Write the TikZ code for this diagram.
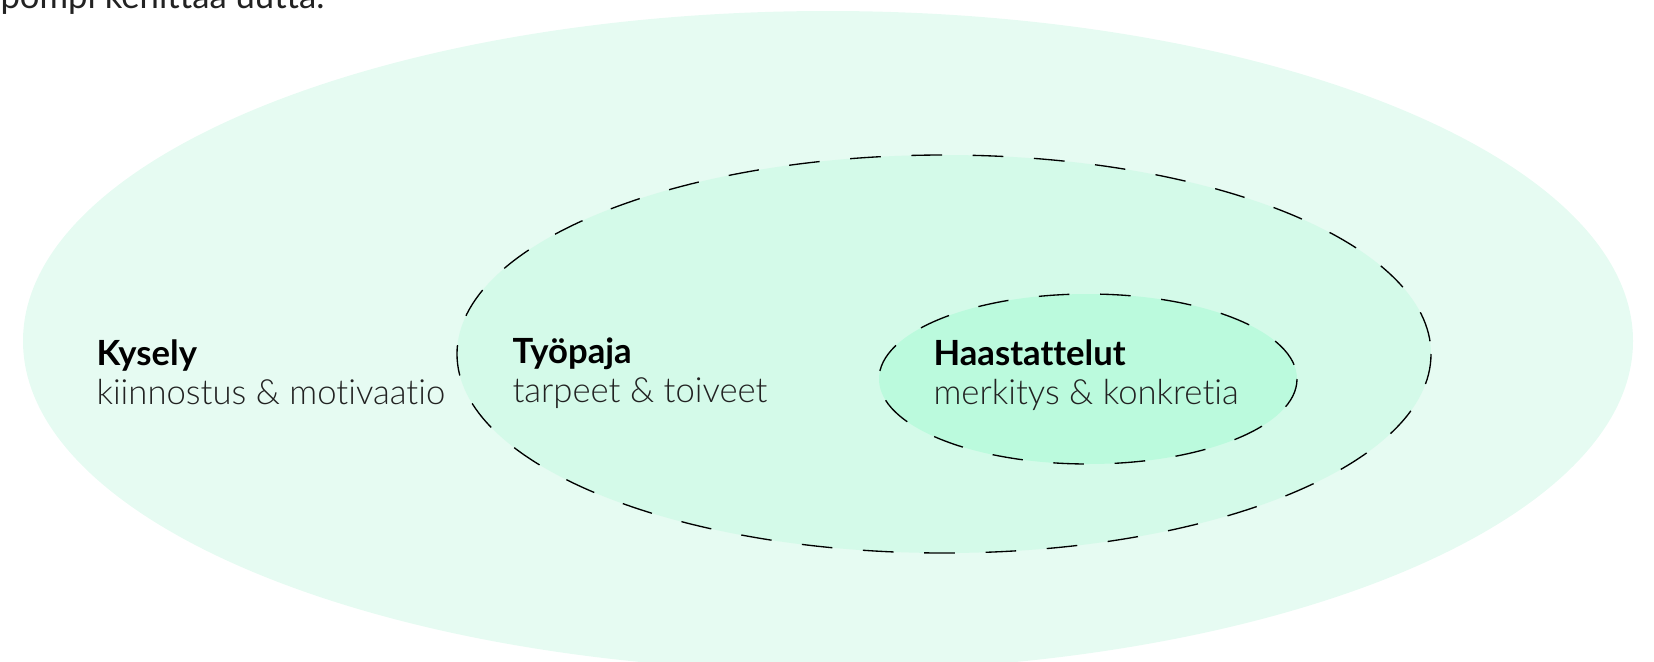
\documentclass[tikz,border=0pt]{standalone}
\usepackage{fontspec}
\setmainfont[Ligatures=CommonOff]{Lato}
\newfontfamily\latolight[Ligatures=CommonOff]{Lato Light}

\definecolor{outerfill}{RGB}{230,251,242}
\definecolor{middlefill}{RGB}{212,250,233}
\definecolor{innerfill}{RGB}{187,250,221}
\definecolor{textgray}{RGB}{34,34,34}

\tikzset{every picture/.style={line width=0.75pt}}
\tikzset{
  ringline/.style={draw=black, line width=1pt, dash pattern=on 23pt off 23pt},
  titletext/.style={anchor=base west, inner sep=0pt, font=\fontsize{26}{30}\selectfont\bfseries},
  subtext/.style={anchor=base west, inner sep=0pt, text=textgray, font=\fontsize{26}{30}\selectfont\latolight},
}

\begin{document}
\begin{tikzpicture}[x=0.75pt,y=0.75pt,yscale=-1]
	\path [use as bounding box, clip] (0,0) rectangle (1654,661);

	%Outer ellipse
	\fill [outerfill] (828,341) ellipse (805 and 330);
	%Middle ellipse
	\fill [middlefill] (944,354) ellipse (487 and 199);
	\draw [ringline] (944,354) ellipse (487 and 199);
	%Inner ellipse
	\fill [innerfill] (1088,379) ellipse (209 and 85);
	\draw [ringline] (1088,379) ellipse (209 and 85);

	% Text Node (cut off at top)
	\node [anchor=base west, inner sep=0pt, text=textgray, font=\fontsize{26}{30}\selectfont] (toptext) at (0,8) {pompi kehittää uutta.};

	% Text Node
	\node [titletext] (kysely) at (96,365) {Kysely};
	\node [subtext] (kyselysub) at (96,404) {kiinnostus \& motivaatio};
	% Text Node
	\node [titletext] (tyopaja) at (512,363) {Työpaja};
	\node [subtext] (tyopajasub) at (512,402) {tarpeet \& toiveet};
	% Text Node
	\node [titletext] (haast) at (933,365) {Haastattelut};
	\node [subtext] (haastsub) at (933,404) {merkitys \& konkretia};

\end{tikzpicture}
\end{document}
